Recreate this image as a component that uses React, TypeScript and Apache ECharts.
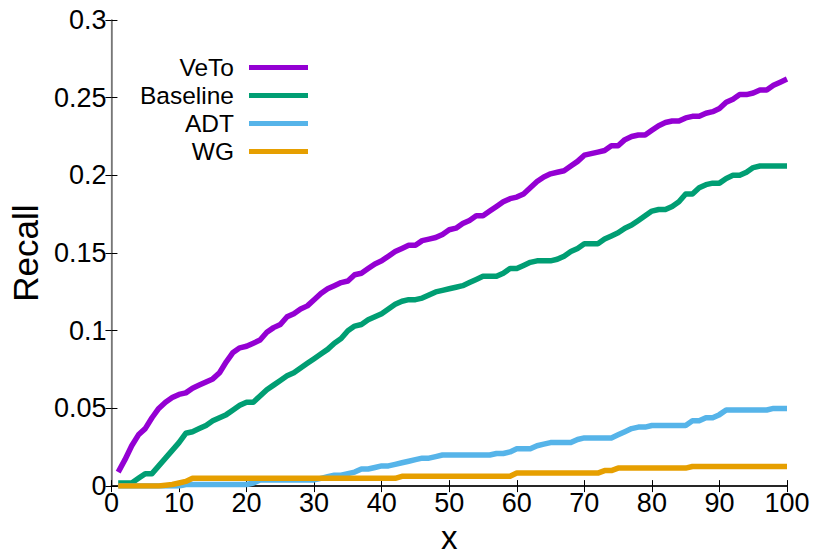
import React, { useEffect, useRef } from "react";
import * as echarts from "echarts";

const xValues = [
  1, 2, 3, 4, 5, 6, 7, 8, 9, 10, 11, 12, 13, 14, 15, 16, 17, 18, 19, 20,
  21, 22, 23, 24, 25, 26, 27, 28, 29, 30, 31, 32, 33, 34, 35, 36, 37, 38, 39, 40,
  41, 42, 43, 44, 45, 46, 47, 48, 49, 50, 51, 52, 53, 54, 55, 56, 57, 58, 59, 60,
  61, 62, 63, 64, 65, 66, 67, 68, 69, 70, 71, 72, 73, 74, 75, 76, 77, 78, 79, 80,
  81, 82, 83, 84, 85, 86, 87, 88, 89, 90, 91, 92, 93, 94, 95, 96, 97, 98, 99, 100,
];

const vetoValues = [
  0.009, 0.017, 0.026, 0.033, 0.037, 0.044, 0.05, 0.054, 0.057, 0.059,
  0.06, 0.063, 0.065, 0.067, 0.069, 0.073, 0.08, 0.086, 0.089, 0.09,
  0.092, 0.094, 0.099, 0.102, 0.104, 0.109, 0.111, 0.114, 0.116, 0.12,
  0.124, 0.127, 0.129, 0.131, 0.132, 0.136, 0.137, 0.14, 0.143, 0.145,
  0.148, 0.151, 0.153, 0.155, 0.155, 0.158, 0.159, 0.16, 0.162, 0.165,
  0.166, 0.169, 0.171, 0.174, 0.174, 0.177, 0.18, 0.183, 0.185, 0.186,
  0.188, 0.192, 0.196, 0.199, 0.201, 0.202, 0.203, 0.206, 0.209, 0.213,
  0.214, 0.215, 0.216, 0.219, 0.219, 0.223, 0.225, 0.226, 0.226, 0.229,
  0.232, 0.234, 0.235, 0.235, 0.237, 0.238, 0.238, 0.24, 0.241, 0.243,
  0.247, 0.249, 0.252, 0.252, 0.253, 0.255, 0.255, 0.258, 0.26, 0.262,
];

const baselineValues = [
  0.002, 0.002, 0.002, 0.005, 0.008, 0.008, 0.013, 0.018, 0.023, 0.028,
  0.034, 0.035, 0.037, 0.039, 0.042, 0.044, 0.046, 0.049, 0.052, 0.054,
  0.054, 0.058, 0.062, 0.065, 0.068, 0.071, 0.073, 0.076, 0.079, 0.082,
  0.085, 0.088, 0.092, 0.095, 0.1, 0.103, 0.104, 0.107, 0.109, 0.111,
  0.114, 0.117, 0.119, 0.12, 0.12, 0.121, 0.123, 0.125, 0.126, 0.127,
  0.128, 0.129, 0.131, 0.133, 0.135, 0.135, 0.135, 0.137, 0.14, 0.14,
  0.142, 0.144, 0.145, 0.145, 0.145, 0.146, 0.148, 0.151, 0.153, 0.156,
  0.156, 0.156, 0.159, 0.161, 0.163, 0.166, 0.168, 0.171, 0.174, 0.177,
  0.178, 0.178, 0.18, 0.183, 0.188, 0.188, 0.192, 0.194, 0.195, 0.195,
  0.198, 0.2, 0.2, 0.202, 0.205, 0.206, 0.206, 0.206, 0.206, 0.206,
];

const adtValues = [
  0, 0, 0, 0, 0, 0, 0, 0, 0, 0,
  0.001, 0.001, 0.001, 0.001, 0.001, 0.001, 0.001, 0.001, 0.001, 0.001,
  0.002, 0.004, 0.004, 0.004, 0.004, 0.004, 0.004, 0.004, 0.004, 0.004,
  0.005, 0.006, 0.007, 0.007, 0.008, 0.009, 0.011, 0.011, 0.012, 0.013,
  0.013, 0.014, 0.015, 0.016, 0.017, 0.018, 0.018, 0.019, 0.02, 0.02,
  0.02, 0.02, 0.02, 0.02, 0.02, 0.02, 0.021, 0.021, 0.022, 0.024,
  0.024, 0.024, 0.026, 0.027, 0.028, 0.028, 0.028, 0.028, 0.03, 0.031,
  0.031, 0.031, 0.031, 0.031, 0.033, 0.035, 0.037, 0.038, 0.038, 0.039,
  0.039, 0.039, 0.039, 0.039, 0.039, 0.042, 0.042, 0.044, 0.044, 0.046,
  0.049, 0.049, 0.049, 0.049, 0.049, 0.049, 0.049, 0.05, 0.05, 0.05,
];

const wgValues = [
  0, 0, 0, 0, 0, 0, 0, 0.0005, 0.001, 0.002,
  0.003, 0.005, 0.005, 0.005, 0.005, 0.005, 0.005, 0.005, 0.005, 0.005,
  0.005, 0.005, 0.005, 0.005, 0.005, 0.005, 0.005, 0.005, 0.005, 0.005,
  0.005, 0.005, 0.005, 0.005, 0.005, 0.005, 0.005, 0.005, 0.005, 0.005,
  0.005, 0.005, 0.0063, 0.0063, 0.0063, 0.0063, 0.0063, 0.0063, 0.0063, 0.0063,
  0.0063, 0.0063, 0.0063, 0.0063, 0.0063, 0.0063, 0.0063, 0.0063, 0.0063, 0.0084,
  0.0084, 0.0084, 0.0084, 0.0084, 0.0084, 0.0084, 0.0084, 0.0084, 0.0084, 0.0084,
  0.0084, 0.0084, 0.01, 0.01, 0.0116, 0.0116, 0.0116, 0.0116, 0.0116, 0.0116,
  0.0116, 0.0116, 0.0116, 0.0116, 0.0116, 0.0126, 0.0126, 0.0126, 0.0126, 0.0126,
  0.0126, 0.0126, 0.0126, 0.0126, 0.0126, 0.0126, 0.0126, 0.0126, 0.0126, 0.0126,
];

const seriesNames = ["VeTo", "Baseline", "ADT", "WG"];
const seriesColors = ["#9400D3", "#009E73", "#56B4E9", "#E69F00"];
const seriesValues = [vetoValues, baselineValues, adtValues, wgValues];

const xTitle = "x";
const yTitle = "Recall";

const FONT = "Liberation Sans, Arial, sans-serif";

export default function App() {
  const ref = useRef<HTMLDivElement>(null);

  useEffect(() => {
    if (!ref.current) return;
    const chart = echarts.init(ref.current, undefined, { renderer: "svg" });

    const tickCommon = { show: true, inside: true, length: 6, lineStyle: { color: "#000", width: 1 } };

    const option: any = {
      animation: false,
      backgroundColor: "#fff",
      textStyle: { fontFamily: FONT },
      grid: { left: 105, right: 31, top: 20, bottom: 64, containLabel: false },
      legend: {
        show: true,
        orient: "vertical",
        align: "right",
        right: 505,
        top: 50,
        itemWidth: 59,
        itemHeight: 5,
        itemGap: 3,
        icon: "rect",
        data: seriesNames,
        formatter: (name: string) => `{n|${name}}`,
        textStyle: {
          fontSize: 24.5,
          color: "#000",
          fontFamily: FONT,
          rich: { n: { fontSize: 24.5, fontFamily: FONT, color: "#000", padding: [0, 10, 0, 0], lineHeight: 27 } },
        },
      },
      xAxis: [
        {
          type: "value",
          position: "bottom",
          min: 0,
          max: 100,
          interval: 10,
          name: xTitle,
          nameLocation: "middle",
          nameGap: 34,
          nameTextStyle: { fontSize: 33, color: "#000", fontFamily: FONT },
          axisLine: { show: true, lineStyle: { color: "#777", width: 1.5 } },
          axisTick: tickCommon,
          axisLabel: { fontSize: 27, color: "#000", margin: 3, fontFamily: FONT },
          splitLine: { show: false },
        },
        {
          type: "value",
          position: "top",
          min: 0,
          max: 100,
          interval: 10,
          axisLine: { show: true, lineStyle: { color: "#000", width: 1.5 } },
          axisTick: tickCommon,
          axisLabel: { show: false },
          splitLine: { show: false },
        },
      ],
      yAxis: [
        {
          type: "value",
          position: "left",
          min: 0,
          max: 0.3,
          interval: 0.05,
          name: yTitle,
          nameLocation: "middle",
          nameGap: 66,
          nameRotate: 90,
          nameTextStyle: { fontSize: 35, color: "#000", fontFamily: FONT },
          axisLine: { show: true, lineStyle: { color: "#777", width: 1.5 } },
          axisTick: tickCommon,
          axisLabel: {
            fontSize: 27,
            color: "#000",
            margin: 5,
            fontFamily: FONT,
            formatter: (v: number) => String(parseFloat(v.toFixed(2))),
          },
          splitLine: { show: false },
        },
        {
          type: "value",
          position: "right",
          min: 0,
          max: 0.3,
          interval: 0.05,
          axisLine: { show: true, lineStyle: { color: "#777", width: 1.2 } },
          axisTick: tickCommon,
          axisLabel: { show: false },
          splitLine: { show: false },
        },
      ],
      series: seriesNames.map((name, i) => ({
        name,
        type: "line",
        xAxisIndex: 0,
        yAxisIndex: 0,
        showSymbol: false,
        symbol: "none",
        color: seriesColors[i],
        lineStyle: { color: seriesColors[i], width: 5.5, cap: "butt", join: "round" },
        data: xValues.map((x, j) => [x, seriesValues[i][j]]),
        z: 2 + i,
      })),
    };

    chart.setOption(option);
    return () => chart.dispose();
  }, []);

  return <div ref={ref} style={{ width: 818, height: 559, margin: -8 }} />;
}
